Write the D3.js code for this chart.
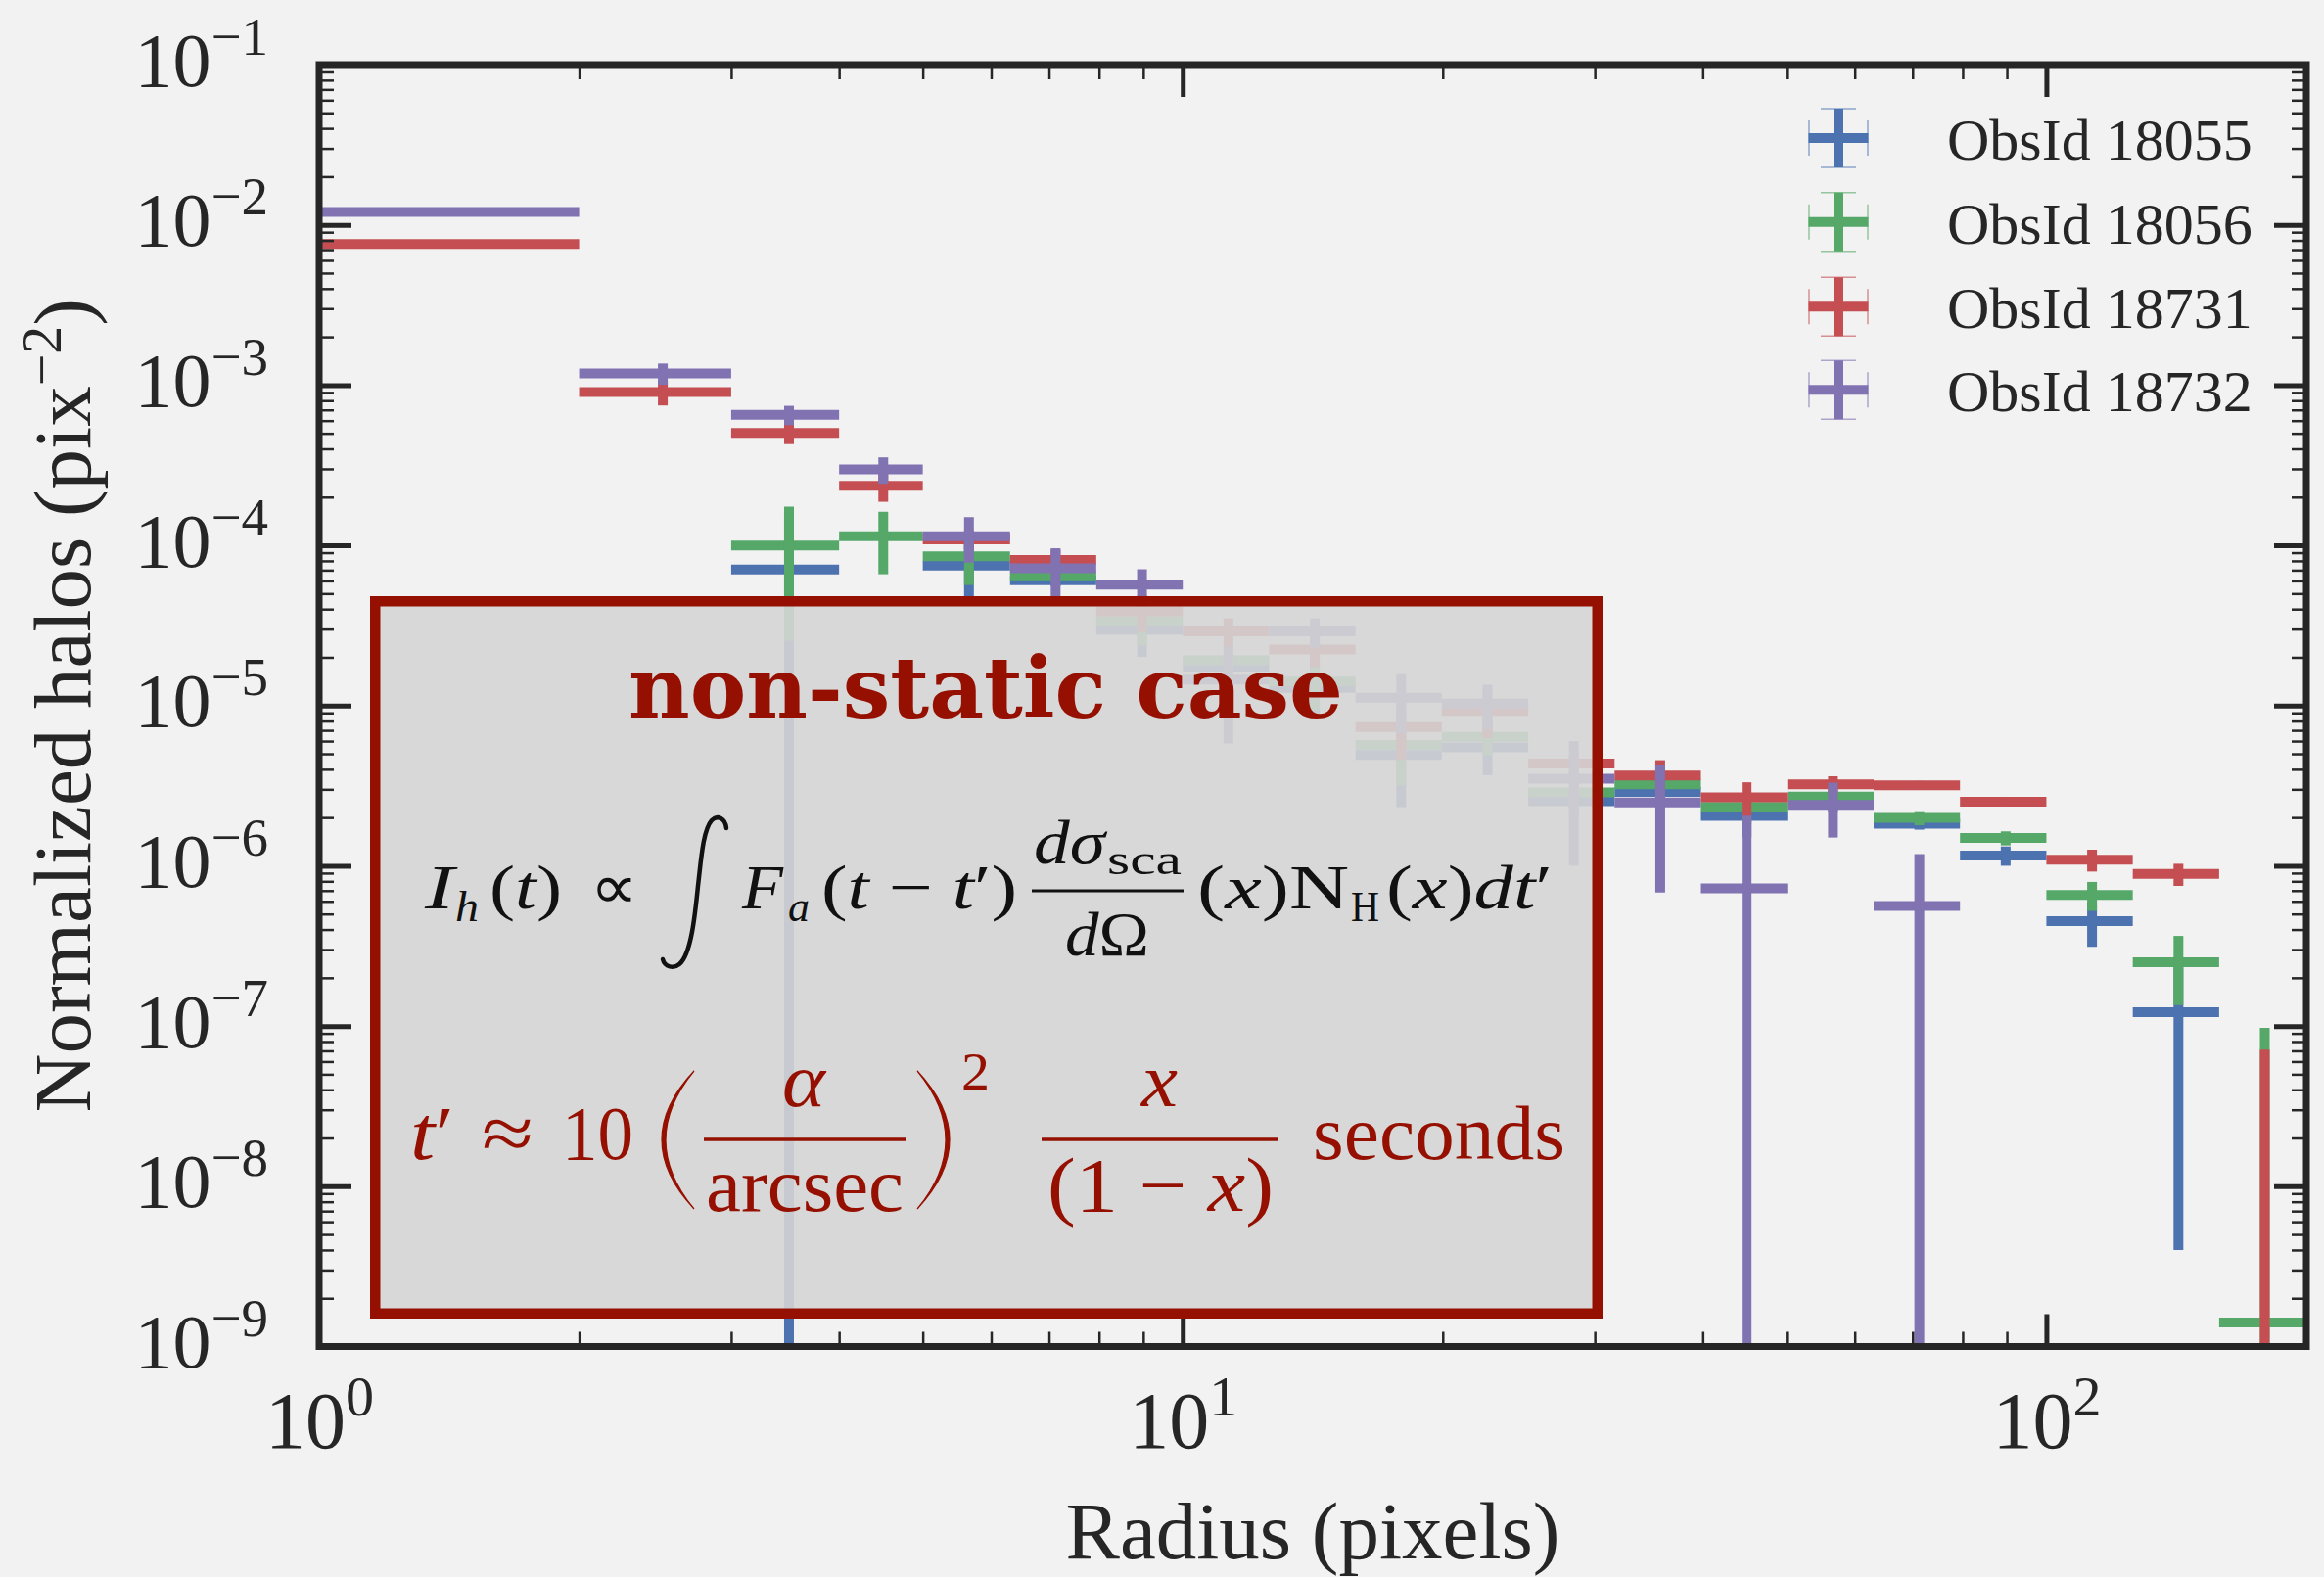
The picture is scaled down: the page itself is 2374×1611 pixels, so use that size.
<!DOCTYPE html>
<html><head><meta charset="utf-8">
<script src="https://cdn.jsdelivr.net/npm/d3@7"></script>
<style>body{margin:0;background:#f2f2f2;} svg{display:block}</style>
</head><body>
<svg id="c" width="2374" height="1611"></svg>
<script>
// ---------------- DATA ----------------
const binEdges = [1,2,3,4,5,6.31,7.94,10,12.59,15.85,19.95,25.12,31.62,39.81,50.12,63.10,79.43,100,125.9,158.5,199.5];
const seriesNames = ["ObsId 18055","ObsId 18056","ObsId 18731","ObsId 18732"];
const obs18055    = [null,null,7.07e-5,null,7.48e-5,6.05e-5,2.96e-5,1.75e-5,1.29e-5,4.92e-6,5.48e-6,2.53e-6,2.89e-6,2.05e-6,2.45e-6,1.83e-6,1.16e-6,4.52e-7,1.22e-7,null];
const obs18055Err = [null,null,9.0e-5,null,2.7e-5,0.5e-5,0.95e-5,0.4e-5,0.4e-5,2.6e-6,1.8e-6,0.5e-6,0.5e-6,0.55e-6,0.3e-6,0.15e-6,0.16e-6,1.4e-7,1.18e-7,null];
const obs18056    = [null,null,9.99e-5,1.14e-4,8.55e-5,6.4e-5,3.37e-5,1.92e-5,1.41e-5,5.67e-6,6.37e-6,2.87e-6,3.22e-6,2.33e-6,2.70e-6,1.99e-6,1.49e-6,6.58e-7,2.50e-7,1.41e-9];
const obs18056Err = [null,null,7.45e-5,4.8e-5,2.9e-5,0.5e-5,1.0e-5,0.4e-5,0.48e-5,2.5e-6,1.5e-6,0.5e-6,0.6e-6,0.5e-6,0.3e-6,0.2e-6,0.15e-6,1.35e-7,1.15e-7,9.6e-8];
const obs18731    = [7.60e-3,9.06e-4,5.03e-4,2.35e-4,1.09e-4,8.1e-5,3.87e-5,2.9e-5,2.24e-5,7.34e-6,9.27e-6,4.34e-6,3.66e-6,2.67e-6,3.22e-6,3.18e-6,2.51e-6,1.09e-6,8.89e-7,5e-10];
const obs18731Err = [3e-4,1.6e-4,7.5e-5,4.8e-5,1.5e-5,1.3e-5,1.0e-5,0.6e-5,0.5e-5,2.75e-6,3.0e-6,0.7e-6,0.9e-6,0.65e-6,0.4e-6,0.2e-6,0.1e-6,1.7e-7,1.4e-7,7.08e-8];
const obs18732    = [1.205e-2,1.183e-3,6.52e-4,2.98e-4,1.14e-4,7.19e-5,5.69e-5,1.45e-5,2.9e-5,1.12e-5,1.03e-5,3.5e-6,2.48e-6,7.24e-7,2.40e-6,5.62e-7,null,null,null,null];
const obs18732Err = [5e-4,1.8e-4,9e-5,5.6e-5,3.6e-5,2.4e-5,1.4e-5,0.87e-5,0.6e-5,0.45e-5,0.32e-5,2.5e-6,1.8e-6,1.33e-6,0.9e-6,6.2e-7,null,null,null,null];
const xMajorTicks = [1,10,100];
const xTickExp = ["0","1","2"];
const yMajorTicks = [1e-9,1e-8,1e-7,1e-6,1e-5,1e-4,1e-3,1e-2,1e-1];
const yTickExp = ["−9","−8","−7","−6","−5","−4","−3","−2","−1"];

// ---------------- LAYOUT / STYLE ----------------
const W=2374,H=1611, L=326, R=2356, T=66, B=1375.5;
const colors = ["#4c72b0","#55a868","#c44e52","#8172b2"];
const ink = "#262626", dark = "#951000";
const serif = "'Liberation Serif','Times New Roman',serif";

const svg = d3.select("#c");
svg.append("rect").attr("width",W).attr("height",H).attr("fill","#f2f2f2");

const x = d3.scaleLog().domain([1,200]).range([L,R]);
const y = d3.scaleLog().domain([1e-9,1e-1]).range([B,T]);

svg.append("clipPath").attr("id","plot").append("rect")
  .attr("x",L).attr("y",T).attr("width",R-L).attr("height",B-T);

// ---------------- DATA MARKS ----------------
const seriesVals = [obs18055,obs18056,obs18731,obs18732];
const seriesErrs = [obs18055Err,obs18056Err,obs18731Err,obs18732Err];
const dataG = svg.append("g").attr("clip-path","url(#plot)");
seriesVals.forEach((vals,si)=>{
  const pts = vals.map((v,i)=>({v, e: seriesErrs[si][i], lo: binEdges[i], hi: binEdges[i+1]}))
                  .filter(d=>d.v!==null);
  const g = dataG.append("g").attr("stroke",colors[si]).attr("stroke-width",10);
  g.selectAll("line.h").data(pts).join("line").attr("class","h")
    .attr("x1",d=>x(d.lo)).attr("x2",d=>x(d.hi))
    .attr("y1",d=>y(d.v)).attr("y2",d=>y(d.v));
  g.selectAll("line.v").data(pts).join("line").attr("class","v")
    .attr("x1",d=>x((d.lo+d.hi)/2)).attr("x2",d=>x((d.lo+d.hi)/2))
    .attr("y1",d=>y(d.v+d.e))
    .attr("y2",d=> (d.v-d.e)>0 ? y(d.v-d.e) : B+30);
});

// ---------------- AXES ----------------
const xMinor=[], yMinor=[];
[1,10].forEach(d=>{for(let k=2;k<=9;k++) xMinor.push(k*d);});
for(let e=-9;e<=-2;e++){for(let k=2;k<=9;k++) yMinor.push(k*Math.pow(10,e));}

function styleAxis(g,w){
  g.select(".domain").remove();
  g.selectAll(".tick line").attr("stroke",ink).attr("stroke-width",w);
}
// minor
[[d3.axisBottom(x),`translate(0,${B})`,xMinor],[d3.axisTop(x),`translate(0,${T})`,xMinor],
 [d3.axisLeft(y),`translate(${L},0)`,yMinor],[d3.axisRight(y),`translate(${R},0)`,yMinor]].forEach(([ax,tr,vals])=>{
  const g = svg.append("g").attr("transform",tr).call(ax.tickValues(vals).tickSize(-15).tickFormat(()=>""));
  styleAxis(g,2.5);
});
// major top/right (no labels)
styleAxis(svg.append("g").attr("transform",`translate(0,${T})`).call(d3.axisTop(x).tickValues(xMajorTicks).tickSize(-33).tickFormat(()=>"")),5);
styleAxis(svg.append("g").attr("transform",`translate(${R},0)`).call(d3.axisRight(y).tickValues(yMajorTicks).tickSize(-33).tickFormat(()=>"")),5);
// bottom major with labels
const gxb = svg.append("g").attr("transform",`translate(0,${B})`)
  .call(d3.axisBottom(x).tickValues(xMajorTicks).tickSize(-33).tickFormat(()=>""));
styleAxis(gxb,5);
gxb.selectAll(".tick text").each(function(d,i){
  const t = d3.select(this).text(null).attr("y",103).attr("dy",0)
    .attr("font-family",serif).attr("font-size",82).attr("fill",ink).attr("text-anchor","middle");
  t.append("tspan").text("10");
  t.append("tspan").attr("font-size",58).attr("dy",-33).text(xTickExp[i]);
});
// left major with labels
const gyl = svg.append("g").attr("transform",`translate(${L},0)`)
  .call(d3.axisLeft(y).tickValues(yMajorTicks).tickSize(-33).tickFormat(()=>""));
styleAxis(gyl,5);
gyl.selectAll(".tick text").each(function(d,i){
  const t = d3.select(this).text(null).attr("x",-52).attr("y",21).attr("dy",0)
    .attr("font-family",serif).attr("font-size",78).attr("fill",ink).attr("text-anchor","end");
  t.append("tspan").text("10");
  t.append("tspan").attr("font-size",55).attr("dy",-32).text(yTickExp[i]);
});

// frame
svg.append("rect").attr("x",L).attr("y",T).attr("width",R-L).attr("height",B-T)
  .attr("fill","none").attr("stroke",ink).attr("stroke-width",7);

// axis titles
svg.append("text").attr("x",(L+R)/2).attr("y",1592).attr("text-anchor","middle")
  .attr("font-family",serif).attr("font-size",83).attr("fill",ink).text("Radius (pixels)");
const yl = svg.append("text").attr("transform",`translate(92,${(T+B)/2}) rotate(-90)`).attr("text-anchor","middle")
  .attr("font-family",serif).attr("font-size",83).attr("fill",ink);
yl.append("tspan").text("Normalized halos (pix");
yl.append("tspan").attr("font-size",58).attr("dy",-30).text("−2");
yl.append("tspan").attr("dy",30).text(")");

// ---------------- LEGEND ----------------
const legY = [141,226.7,313.3,398.3];
const lg = svg.append("g");
seriesNames.forEach((name,i)=>{
  const cy = legY[i], cx = 1878;
  lg.append("line").attr("x1",1847.5).attr("x2",1908.5).attr("y1",cy).attr("y2",cy).attr("stroke",colors[i]).attr("stroke-width",10);
  lg.append("line").attr("x1",cx).attr("x2",cx).attr("y1",cy-30).attr("y2",cy+30).attr("stroke",colors[i]).attr("stroke-width",10);
  [[1848,cy-18,1848,cy+18],[1908,cy-18,1908,cy+18],[cx-18,cy-30,cx+18,cy-30],[cx-18,cy+30,cx+18,cy+30]].forEach(c=>{
    lg.append("line").attr("x1",c[0]).attr("y1",c[1]).attr("x2",c[2]).attr("y2",c[3])
      .attr("stroke",colors[i]).attr("stroke-width",1.5).attr("opacity",0.6);
  });
  lg.append("text").attr("x",1989).attr("y",cy+22).attr("font-family",serif).attr("font-size",60)
    .attr("fill",ink).text(name);
});

// ---------------- ANNOTATION BOX ----------------
const box = svg.append("g");
box.append("rect").attr("x",383.25).attr("y",614.25).attr("width",1248.5).attr("height",727.5)
  .attr("fill","rgb(213,213,213)").attr("fill-opacity",0.9).attr("stroke",dark).attr("stroke-width",10.5);

box.append("text").attr("x",642).attr("y",733).attr("font-family","'DejaVu Serif',serif").attr("font-weight","bold")
  .attr("font-size",86).attr("fill",dark).attr("textLength",730).attr("lengthAdjust","spacingAndGlyphs")
  .text("non-static case");

function put(parts,px,py,size,fill,len){
  const t = box.append("text").attr("x",px).attr("y",py).attr("font-family",serif)
    .attr("font-size",size).attr("fill",fill);
  if(len) t.attr("textLength",len).attr("lengthAdjust","spacingAndGlyphs");
  parts.forEach(p=>{ t.append("tspan").attr("font-style",p[1]?"italic":"normal").text(p[0]); });
  return t;
}
// formula 1 (black)
const k="#111";
put([["I",1]],434,928,64,k,30);
put([["h",1]],465,941,45,k,24);
put([["(",0],["t",1],[")",0]],500,928,64,k,74);
put([["∝",0]],603,928,64,k,49);
box.append("path").attr("d","M742 846 C741 836,733 832,727 838 C718 848,716 880,713 905 C710 935,706 975,694 985 C688 990,679 988,677 980")
  .attr("fill","none").attr("stroke",k).attr("stroke-width",4.5).attr("stroke-linecap","round");
put([["F",1]],758,928,64,k,42);
put([["a",1]],805,941,45,k,22);
put([["(",0],["t",1],[" − ",0],["t",1],["′",0],[")",0]],839,928,64,k,200);
box.append("line").attr("x1",1054).attr("x2",1209).attr("y1",910).attr("y2",910).attr("stroke",k).attr("stroke-width",3);
put([["dσ",1]],1056,882,64,k,73);
put([["sca",0]],1131,893,45,k,76);
put([["d",1],["Ω",0]],1088,976,64,k,86);
put([["(",0],["x",1],[")",0],["N",0]],1223,928,64,k,155);
put([["H",0]],1380,941,45,k,29);
put([["(",0],["x",1],[")",0],["d",1],["t",1],["′",0]],1416,928,64,k,170);

// formula 2 (dark red)
put([["t",1],["′",0]],419,1184,78,dark,45);
put([["≈",0]],492,1184,78,dark,53);
put([["10",0]],574,1184,78,dark,73);
box.append("path").attr("d","M709 1094 Q643 1164.5 709 1235 Q651 1164.5 709 1094 Z").attr("fill",dark).attr("stroke",dark).attr("stroke-width",1.2);
box.append("path").attr("d","M937 1094 Q1003 1164.5 937 1235 Q995 1164.5 937 1094 Z").attr("fill",dark).attr("stroke",dark).attr("stroke-width",1.2);
put([["α",1]],799,1130,78,dark,44);
box.append("line").attr("x1",719).attr("x2",925).attr("y1",1164).attr("y2",1164).attr("stroke",dark).attr("stroke-width",3.5);
put([["arcsec",0]],721,1237,78,dark,202);
put([["2",0]],982,1113,55,dark,29);
put([["x",1]],1166,1130,78,dark,37);
box.append("line").attr("x1",1064).attr("x2",1306).attr("y1",1164).attr("y2",1164).attr("stroke",dark).attr("stroke-width",3.5);
put([["(",0],["1 − ",0],["x",1],[")",0]],1070,1237,78,dark,231);
put([["seconds",0]],1341,1184,78,dark,258);
</script>
</body></html>
